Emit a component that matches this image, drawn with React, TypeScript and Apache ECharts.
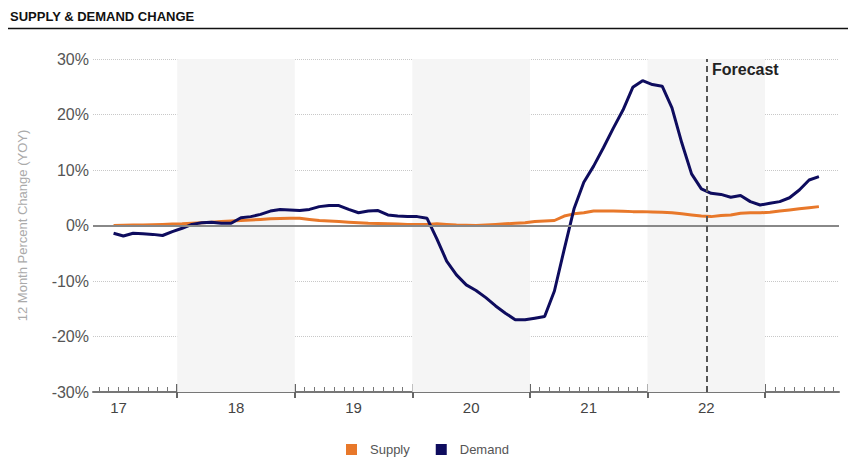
import React, { useEffect, useRef } from "react";
import * as echarts from "echarts";

// months counted from Jan 2017 = 0; first observation is June 2017
const startMonth = 5;
const demand = [
  -1.4, -1.9, -1.4, -1.5, -1.6, -1.8, -1.1,
  -0.5, 0.2, 0.5, 0.6, 0.4, 0.4, 1.4, 1.6, 2.0, 2.6, 2.9, 2.8,
  2.7, 2.9, 3.4, 3.6, 3.6, 2.9, 2.3, 2.6, 2.7, 1.9, 1.7, 1.6,
  1.6, 1.3, -2.4, -6.4, -8.9, -10.7, -11.7, -13.0, -14.5, -15.8, -17.0, -17.0,
  -16.7, -16.4, -11.8, -4.3, 3.0, 7.8, 10.7, 14.0, 17.5, 20.8, 24.9, 26.1,
  25.4, 25.1, 21.2, 14.9, 9.3, 6.6, 5.8, 5.6, 5.1, 5.4, 4.3, 3.7,
  4.0, 4.3, 5.0, 6.4, 8.2, 8.8,
];
const supply = [
  0.0, 0.05, 0.1, 0.1, 0.15, 0.2, 0.25,
  0.3, 0.4, 0.5, 0.6, 0.7, 0.8, 0.9, 1.0, 1.1, 1.2, 1.25, 1.3,
  1.3, 1.1, 0.9, 0.8, 0.7, 0.6, 0.5, 0.4, 0.35, 0.3, 0.25, 0.2,
  0.2, 0.2, 0.3, 0.2, 0.1, 0.05, 0.0, 0.1, 0.2, 0.3, 0.4, 0.5,
  0.7, 0.8, 0.9, 1.7, 2.1, 2.3, 2.6, 2.6, 2.6, 2.55, 2.5, 2.5,
  2.45, 2.4, 2.3, 2.1, 1.9, 1.7, 1.6, 1.8, 1.9, 2.2, 2.3, 2.3,
  2.4, 2.6, 2.8, 3.0, 3.2, 3.4,
];
const yearLabels = ["17", "18", "19", "20", "21", "22"];
const shadedYearStarts = [12, 36, 60]; // 2018, 2020, 2022
const yearBoundaries = [12, 24, 36, 48, 60, 72];
const forecastMonth = 66; // July 2022
const axisMin = 3.4;
const axisMax = 79.55;

const FONT = "'Liberation Sans', Arial, sans-serif";

export default function App() {
  const ref = useRef<HTMLDivElement>(null);
  useEffect(() => {
    if (!ref.current) return;
    const chart = echarts.init(ref.current, undefined, { renderer: "svg" });
    const toPts = (arr: number[]) => arr.map((v, i) => [startMonth + i + 0.5, v]);
    const monthTicks: number[] = [];
    for (let m = Math.ceil(axisMin); m <= Math.floor(axisMax); m++) monthTicks.push(m);
    const labelVals = yearLabels.map((_, i) => 6 + i * 12);

    const baseX = {
      type: "value" as const,
      min: axisMin,
      max: axisMax,
      position: "bottom" as const,
      splitLine: { show: false },
    };

    chart.setOption({
      animation: false,
      textStyle: { fontFamily: FONT },
      grid: { left: 93, right: 22, top: 59, bottom: 79 },
      graphic: [
        {
          type: "text",
          left: 10,
          top: 10,
          style: { text: "SUPPLY & DEMAND CHANGE", font: `bold 13px ${FONT}`, fill: "#111" },
        },
        {
          type: "line",
          shape: { x1: 8, y1: 28.5, x2: 848, y2: 28.5 },
          style: { stroke: "#111", lineWidth: 1.5 },
        },
        {
          type: "text",
          left: 712,
          top: 61,
          style: { text: "Forecast", font: `bold 16px ${FONT}`, fill: "#222" },
          z: 10,
        },
      ],
      legend: {
        data: ["Supply", "Demand"],
        left: 341,
        top: 438,
        icon: "rect",
        itemWidth: 11,
        itemHeight: 11,
        itemGap: 26,
        textStyle: { fontSize: 13, color: "#555", fontFamily: FONT, padding: [0, 0, 0, 8] },
      },
      xAxis: [
        {
          ...baseX,
          axisLine: { show: true, onZero: false, lineStyle: { color: "#777", width: 2 } },
          axisTick: {
            show: true,
            inside: true,
            length: 5,
            customValues: monthTicks,
            lineStyle: { color: "#777", width: 1 },
          },
          axisLabel: {
            show: true,
            customValues: labelVals,
            formatter: (v: number) => yearLabels[Math.round((v - 6) / 12)] ?? "",
            fontSize: 15,
            color: "#444",
            margin: 8,
            fontFamily: FONT,
          },
        },
        {
          ...baseX,
          axisLine: { show: false, onZero: false },
          axisTick: {
            show: true,
            inside: true,
            length: 8,
            customValues: yearBoundaries,
            lineStyle: { color: "#666", width: 2 },
          },
          axisLabel: { show: false },
        },
        {
          ...baseX,
          axisLine: { show: false, onZero: false },
          axisTick: {
            show: true,
            inside: false,
            length: 6,
            customValues: yearBoundaries,
            lineStyle: { color: "#666", width: 2 },
          },
          axisLabel: { show: false },
        },
      ],
      yAxis: {
        type: "value",
        min: -30,
        max: 30,
        interval: 10,
        name: "12 Month Percent Change (YOY)",
        nameLocation: "middle",
        nameGap: 64,
        nameTextStyle: { color: "#aaa", fontSize: 13, fontFamily: FONT },
        axisLine: { show: false },
        axisTick: { show: false },
        axisLabel: { formatter: "{value}%", fontSize: 16, color: "#555", margin: 4, fontFamily: FONT },
        splitLine: { show: true, lineStyle: { color: "#c8c8c8", type: "dotted", width: 1 } },
      },
      series: [
        {
          name: "bands",
          type: "line",
          data: [],
          z: -1,
          silent: true,
          markArea: {
            silent: true,
            itemStyle: { color: "#f5f5f5" },
            data: shadedYearStarts.map((s) => [{ xAxis: s }, { xAxis: s + 12 }]),
          },
        },
        {
          name: "refs",
          type: "line",
          data: [],
          z: 1,
          silent: true,
          markLine: {
            silent: true,
            symbol: "none",
            label: { show: false },
            data: [
              { yAxis: 0, lineStyle: { color: "#888", width: 2, type: "solid" } },
              { xAxis: forecastMonth, lineStyle: { color: "#555", width: 2, type: [6, 4] } },
            ],
          },
        },
        {
          name: "Supply",
          type: "line",
          data: toPts(supply),
          showSymbol: false,
          symbol: "none",
          z: 3,
          itemStyle: { color: "#E8782A" },
          lineStyle: { color: "#E8782A", width: 3 },
        },
        {
          name: "Demand",
          type: "line",
          data: toPts(demand),
          showSymbol: false,
          symbol: "none",
          z: 4,
          itemStyle: { color: "#0E0C5E" },
          lineStyle: { color: "#0E0C5E", width: 3 },
        },
      ],
    });
    return () => chart.dispose();
  }, []);
  return (
    <div
      ref={ref}
      style={{ position: "fixed", left: 0, top: 0, width: 861, height: 471, background: "#fff" }}
    />
  );
}
